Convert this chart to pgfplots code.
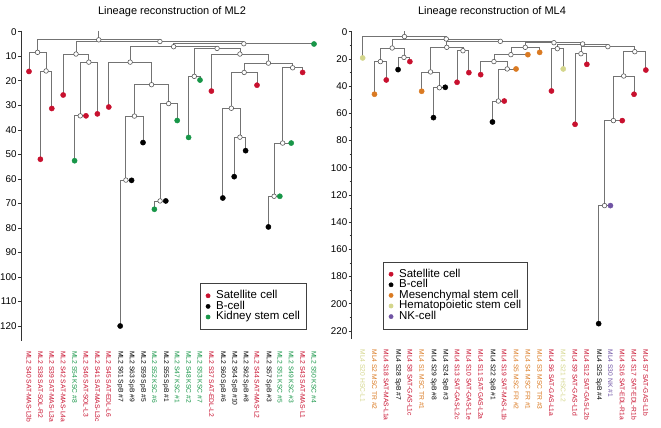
\documentclass[border=0pt]{standalone}
\usepackage{pgfplots}
\pgfplotsset{compat=1.18}
\usepackage{fontspec}
\setmainfont{Liberation Sans}
\definecolor{satred}{RGB}{200,16,46}
\definecolor{kscgreen}{RGB}{24,150,72}
\definecolor{mscorange}{RGB}{218,122,34}
\definecolor{hscyellow}{RGB}{212,214,140}
\definecolor{nkpurple}{RGB}{112,84,164}
\definecolor{edgegray}{RGB}{115,115,115}
\newcommand{\lR}[1]{\textcolor{satred}{#1}}
\newcommand{\lK}[1]{\textcolor{black}{#1}}
\newcommand{\lG}[1]{\textcolor{kscgreen}{#1}}
\newcommand{\lO}[1]{\textcolor{mscorange}{#1}}
\newcommand{\lY}[1]{\textcolor{hscyellow}{#1}}
\newcommand{\lP}[1]{\textcolor{nkpurple}{#1}}
% branch: x1,y1, node height, x2,y2
\newcommand{\br}[5]{\addplot[edge] coordinates {(#1,#2) (#1,#3) (#4,#3) (#4,#5)};}
\pgfplotsset{
  edge/.style={draw=edgegray, line width=0.8pt, mark=none, forget plot},
  inode/.style={only marks, mark=*, mark size=2.3pt, mark options={fill=white, draw=black!65, line width=0.6pt}, forget plot},
  leaf/.style={only marks, mark=*, mark size=2.6pt},
  common/.style={
    scale only axis, y dir=reverse, clip=false,
    axis y line=left, axis x line=bottom,
    y axis line style={-, draw=black!80, line width=0.6pt},
    x axis line style={draw=none}, xtick style={draw=none},
    ytick style={draw=black!80, line width=0.6pt},
    tick align=outside, major tick length=3pt, minor tick length=2pt,
    /pgf/number format/assume math mode=true,
    yticklabel style={font=\fontsize{9.8}{10}\selectfont, inner xsep=1.2pt},
    xticklabel style={rotate=-90, anchor=west, font=\fontsize{6.7}{7}\selectfont},
    xticklabel shift=4pt,
    legend cell align=left,
    legend image code/.code={\draw[mark repeat=2,mark phase=2,#1,mark size=2.1pt] plot coordinates {(0pt,0pt) (3pt,0pt) (6pt,0pt)};},
    legend style={draw=black!75, line width=0.5pt, font=\fontsize{11.5}{11}\selectfont,
      inner xsep=5.4pt, inner ysep=7pt, row sep=0pt,
      nodes={inner sep=0.5pt, text height=7.6pt, text depth=2pt},
      /tikz/every odd column/.append style={column sep=5.5pt}},
  }
}
\begin{document}
\begin{tikzpicture}
\path[use as bounding box] (0pt,0pt) rectangle (661pt,-428pt);
% ---------------- ML2 ----------------
\begin{axis}[common, at={(21pt,-30.5pt)}, anchor=north west,
  width=301pt, height=310.2pt,
  xmin=-0.7, xmax=25.7, ymin=-0.5, ymax=126,
  ytick={0,10,...,120},
  xtick={0,...,25},
  xticklabels={{\lR{ML2 S40 SAT-MAS-L3b}},{\lR{ML2 S38 SAT-SOL-R2}},{\lR{ML2 S39 SAT-MAS-L3a}},{\lR{ML2 S42 SAT-MAS-L4a}},{\lG{ML2 S54 KSC \#8}},{\lR{ML2 S46 SAT-SOL-L3}},{\lR{ML2 S41 SAT-MAS-L3c}},{\lR{ML2 S45 SAT-EDL-L6}},{\lK{ML2 S61 SpB \#7}},{\lK{ML2 S63 SpB \#9}},{\lK{ML2 S59 SpB \#5}},{\lG{ML2 S52 KSC \#6}},{\lK{ML2 S55 SpB \#1}},{\lG{ML2 S47 KSC \#1}},{\lG{ML2 S48 KSC \#2}},{\lG{ML2 S53 KSC \#7}},{\lR{ML2 S37 SAT-EDL-L2}},{\lK{ML2 S60 SpB \#6}},{\lK{ML2 S64 SpB \#10}},{\lK{ML2 S62 SpB \#8}},{\lR{ML2 S44 SAT-MAS-L2}},{\lK{ML2 S57 SpB \#3}},{\lG{ML2 S51 KSC \#5}},{\lG{ML2 S49 KSC \#3}},{\lR{ML2 S43 SAT-MAS-L1}},{\lG{ML2 S50 KSC \#4}}},
  legend style={at={(0.947,0.036)}, anchor=south east},
]
\addplot[edge] coordinates {(6.1171875,-0.5) (6.1171875,3.3)};
\br{1}{52}{16}{2}{31.3}
\br{0}{16.2}{8.4}{1.5}{16}
\br{4}{52.6}{34.3}{5}{34.3}
\br{4.5}{34.3}{12.4}{6}{33.5}
\br{3}{25.8}{9.1}{5.25}{12.4}
\br{8}{120}{60.5}{9}{60.6}
\br{8.5}{60.5}{34.4}{10}{45.2}
\br{11}{72.4}{69}{12}{69}
\br{11.5}{69}{29.3}{13}{36.2}
\br{9.25}{34.4}{21.6}{12.25}{29.3}
\br{7}{30.7}{12.4}{10.75}{21.6}
\br{14}{43.1}{18.2}{15}{19.7}
\br{18}{59.1}{43}{19}{48.5}
\br{17}{67.8}{31.2}{18.5}{43}
\br{17.75}{31.2}{16.6}{20}{21.8}
\br{21}{79.6}{67.1}{22}{67.1}
\br{21.5}{67.1}{45.4}{23}{45.4}
\br{22.25}{45.4}{14.7}{24}{16.6}
\br{18.875}{16.6}{12.8}{23.125}{14.7}
\br{16}{24.2}{9.1}{21}{12.8}
\br{14.5}{18.2}{6.8}{18.5}{9.1}
\br{8.875}{12.4}{6.1}{16.5}{6.8}
\br{12.6875}{6.1}{4.9}{25}{5.0}
\br{4.125}{9.1}{4.0}{18.84375}{4.9}
\br{0.75}{8.4}{3.3}{11.484375}{4.0}
\addplot[inode] coordinates {(1.5,16) (0.75,8.4) (4.5,34.3) (5.25,12.4) (4.125,9.1) (8.5,60.5) (9.25,34.4) (11.5,69) (12.25,29.3) (10.75,21.6) (8.875,12.4) (14.5,18.2) (18.5,43) (17.75,31.2) (18.875,16.6) (21.5,67.1) (22.25,45.4) (23.125,14.7) (21,12.8) (18.5,9.1) (16.5,6.8) (12.6875,6.1) (18.84375,4.9) (11.484375,4.0) (6.1171875,3.3)};
\addplot[leaf, color=satred] coordinates {(0,16.2) (1,52) (2,31.3) (3,25.8) (5,34.3) (6,33.5) (7,30.7) (16,24.2) (20,21.8) (24,16.6)};
\addlegendentry{Satellite cell}
\addplot[leaf, color=black] coordinates {(8,120) (9,60.6) (10,45.2) (12,69) (17,67.8) (18,59.1) (19,48.5) (21,79.6)};
\addlegendentry{B-cell}
\addplot[leaf, color=kscgreen] coordinates {(4,52.6) (11,72.4) (13,36.2) (14,43.1) (15,19.7) (22,67.1) (23,45.4) (25,5.0)};
\addlegendentry{Kidney stem cell}
\end{axis}
% ---------------- ML4 ----------------
\begin{axis}[common, at={(351.7pt,-31.0pt)}, anchor=north west,
  width=302.4pt, height=308pt,
  xmin=-0.93, xmax=24.7, ymin=-0.5, ymax=226,
  ytick={0,20,...,220}, minor ytick={10,30,...,210},
  xtick={0,...,24},
  xticklabels={{\lY{ML4 S20 HSC-L1}},{\lO{ML4 S2 MSC TR \#2}},{\lR{ML4 S18 SAT-MAS-L1a}},{\lK{ML4 S28 SpB \#7}},{\lR{ML4 S8 SAT-GAS-L1c}},{\lO{ML4 S1 MSC TR \#1}},{\lK{ML4 S29 SpB \#8}},{\lK{ML4 S24 SpB \#3}},{\lR{ML4 S13 SAT-GAS-L2c}},{\lR{ML4 S10 SAT-GAS-L1e}},{\lR{ML4 S11 SAT-GAS-L2a}},{\lK{ML4 S22 SpB \#1}},{\lR{ML4 S19 SAT-MAS-L1b}},{\lO{ML4 S5 MSC FR \#2}},{\lO{ML4 S4 MSC FR \#1}},{\lO{ML4 S3 MSC TR \#3}},{\lR{ML4 S6 SAT-GAS-L1a}},{\lY{ML4 S21 HSC-L2}},{\lR{ML4 S9 SAT-GAS-L1d}},{\lR{ML4 S12 SAT-GAS-L2b}},{\lK{ML4 S25 SpB \#4}},{\lP{ML4 S30 NK \#1}},{\lR{ML4 S16 SAT-EDL-R1a}},{\lR{ML4 S17 SAT-EDL-R1b}},{\lR{ML4 S7 SAT-GAS-L1b}}},
  legend style={at={(0.581,0.032)}, anchor=south east},
]
\addplot[edge] coordinates {(3.5419921875,-0.5) (3.5419921875,3.6)};
\br{1}{46}{22}{2}{35.5}
\br{3}{27.9}{18.9}{4}{22}
\br{1.5}{22}{12}{3.5}{18.9}
\br{6}{63.2}{41.2}{7}{40.9}
\br{5}{43.8}{29.6}{6.5}{41.2}
\br{8}{37.2}{14}{9}{30.1}
\br{5.75}{29.6}{11.5}{8.5}{14}
\br{11}{66.4}{51}{12}{51}
\br{11.5}{51}{27.4}{13}{27.4}
\br{10}{31.6}{22}{12.25}{27.4}
\br{11.125}{22}{16.9}{14}{16.9}
\br{12.5625}{16.9}{11.5}{15}{15.2}
\br{16}{43.6}{12.5}{17}{27.4}
\br{18}{68.1}{16.2}{19}{24}
\br{20}{214.7}{127.9}{21}{127.9}
\br{20.5}{127.9}{65.4}{22}{65.4}
\br{21.25}{65.4}{32.6}{23}{46}
\br{22.125}{32.6}{14.7}{24}{28.2}
\br{18.5}{16.2}{11}{23.0625}{14.7}
\br{16.5}{12.5}{9.0}{20.78125}{11}
\br{13.78125}{11.5}{8.1}{18.640625}{9.0}
\br{7.125}{11.5}{7.1}{16.2109375}{8.1}
\br{2.5}{12}{5.4}{11.66796875}{7.1}
\br{0}{19.3}{3.6}{7.083984375}{5.4}
\addplot[inode] coordinates {(1.5,22) (3.5,18.9) (2.5,12) (6.5,41.2) (5.75,29.6) (8.5,14) (7.125,11.5) (11.5,51) (12.25,27.4) (11.125,22) (12.5625,16.9) (13.78125,11.5) (16.5,12.5) (18.5,16.2) (20.5,127.9) (21.25,65.4) (22.125,32.6) (23.0625,14.7) (20.78125,11) (18.640625,9.0) (16.2109375,8.1) (11.66796875,7.1) (7.083984375,5.4) (3.5419921875,3.6)};
\addplot[leaf, color=satred] coordinates {(2,35.5) (4,22) (8,37.2) (9,30.1) (10,31.6) (12,51) (16,43.6) (18,68.1) (19,24) (22,65.4) (23,46) (24,28.2)};
\addlegendentry{Satellite cell}
\addplot[leaf, color=black] coordinates {(3,27.9) (6,63.2) (7,40.9) (11,66.4) (20,214.7)};
\addlegendentry{B-cell}
\addplot[leaf, color=mscorange] coordinates {(1,46) (5,43.8) (13,27.4) (14,16.9) (15,15.2)};
\addlegendentry{Mesenchymal stem cell}
\addplot[leaf, color=hscyellow] coordinates {(0,19.3) (17,27.4)};
\addlegendentry{Hematopoietic stem cell}
\addplot[leaf, color=nkpurple] coordinates {(21,127.9)};
\addlegendentry{NK-cell}
\end{axis}
\node[font=\fontsize{11}{13}\selectfont, anchor=base] at (172pt,-15pt) {Lineage reconstruction of ML2};
\node[font=\fontsize{11}{13}\selectfont, anchor=base] at (492pt,-15pt) {Lineage reconstruction of ML4};
\end{tikzpicture}
\end{document}
